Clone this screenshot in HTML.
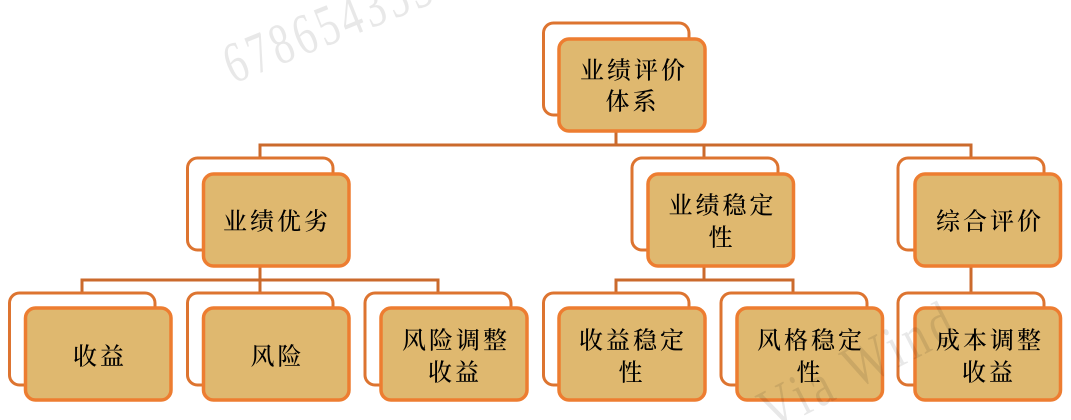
<!DOCTYPE html>
<html lang="zh">
<head>
<meta charset="utf-8">
<style>
html,body{margin:0;padding:0;background:#fff;width:1071px;height:420px;overflow:hidden}
#wrap{position:relative;width:1071px;height:420px;overflow:hidden;contain:paint}
svg{display:block}
text{font-family:"Liberation Serif","Noto Serif CJK SC",serif}
.l{font-family:"Noto Serif CJK SC",serif;font-size:24px;font-weight:500;letter-spacing:3px;fill:#000;text-anchor:middle;dominant-baseline:central}
.b{fill:#fff;stroke:#DD7430;stroke-width:3}
.f{fill:#DFB86F;stroke:#ED7D31;stroke-width:3.5}
.c{fill:none;stroke:#CB6A2C;stroke-width:3}
.w{font-size:58px;fill:#000;fill-opacity:.09}
</style>
</head>
<body>
<div id="wrap">
<svg width="1071" height="420" viewBox="0 0 1071 420" xmlns="http://www.w3.org/2000/svg">
<defs><clipPath id="frame"><rect x="0" y="0" width="1071" height="420"/></clipPath></defs>
<path class="c" d="M616 131V145M260 158V145H971V158M704 145V158M260 266V280M82 293V280H438V293M260 280V293M704 266V280M616 293V280H793V293M971 266V293"/>

<rect class="b" x="543.5" y="23" width="145.5" height="92" rx="10"/>
<rect class="b" x="187.5" y="158" width="145.5" height="92" rx="10"/>
<rect class="b" x="632" y="158" width="146" height="92" rx="10"/>
<rect class="b" x="898" y="158" width="146" height="92" rx="10"/>
<rect class="b" x="9.5" y="293" width="145.5" height="92" rx="10"/>
<rect class="b" x="187.5" y="293" width="145.5" height="92" rx="10"/>
<rect class="b" x="365" y="293" width="146" height="92" rx="10"/>
<rect class="b" x="543.5" y="293" width="145.5" height="92" rx="10"/>
<rect class="b" x="721" y="293" width="146" height="92" rx="10"/>
<rect class="b" x="898" y="293" width="146" height="92" rx="10"/>

<rect class="f" x="559" y="39" width="146" height="92" rx="10"/>
<rect class="f" x="203.5" y="174" width="145.5" height="92" rx="10"/>
<rect class="f" x="648" y="174" width="145.5" height="92" rx="10"/>
<rect class="f" x="915" y="174" width="145.5" height="92" rx="10"/>
<rect class="f" x="25.5" y="308" width="145.5" height="92" rx="10"/>
<rect class="f" x="203.5" y="308" width="145.5" height="92" rx="10"/>
<rect class="f" x="381" y="308" width="146" height="92" rx="10"/>
<rect class="f" x="559" y="308" width="146" height="92" rx="10"/>
<rect class="f" x="737" y="308" width="145.5" height="92" rx="10"/>
<rect class="f" x="915" y="308" width="145.5" height="92" rx="10"/>

<text class="l" x="634" y="68">业绩评价</text>
<text class="l" x="632.5" y="99">体系</text>
<text class="l" x="277" y="219">业绩优劣</text>
<text class="l" x="722.5" y="203">业绩稳定</text>
<text class="l" x="722" y="235">性</text>
<text class="l" x="990" y="219">综合评价</text>
<text class="l" x="100" y="354">收益</text>
<text class="l" x="277.5" y="354">风险</text>
<text class="l" x="456" y="338">风险调整</text>
<text class="l" x="455" y="370">收益</text>
<text class="l" x="633" y="338">收益稳定</text>
<text class="l" x="632" y="370">性</text>
<text class="l" x="811" y="338">风格稳定</text>
<text class="l" x="810" y="370">性</text>
<text class="l" x="990" y="338">成本调整</text>
<text class="l" x="989" y="370">收益</text>

<g clip-path="url(#frame)">
<text class="w" transform="translate(233,84) rotate(-22) scale(.72,1)" style="letter-spacing:5.4px">6786543530</text>
<text class="w" transform="translate(772,432) rotate(-27) scale(.8,1.05)" style="letter-spacing:6px">Via Wind</text>
</g>
</svg>
</div>
</body>
</html>
